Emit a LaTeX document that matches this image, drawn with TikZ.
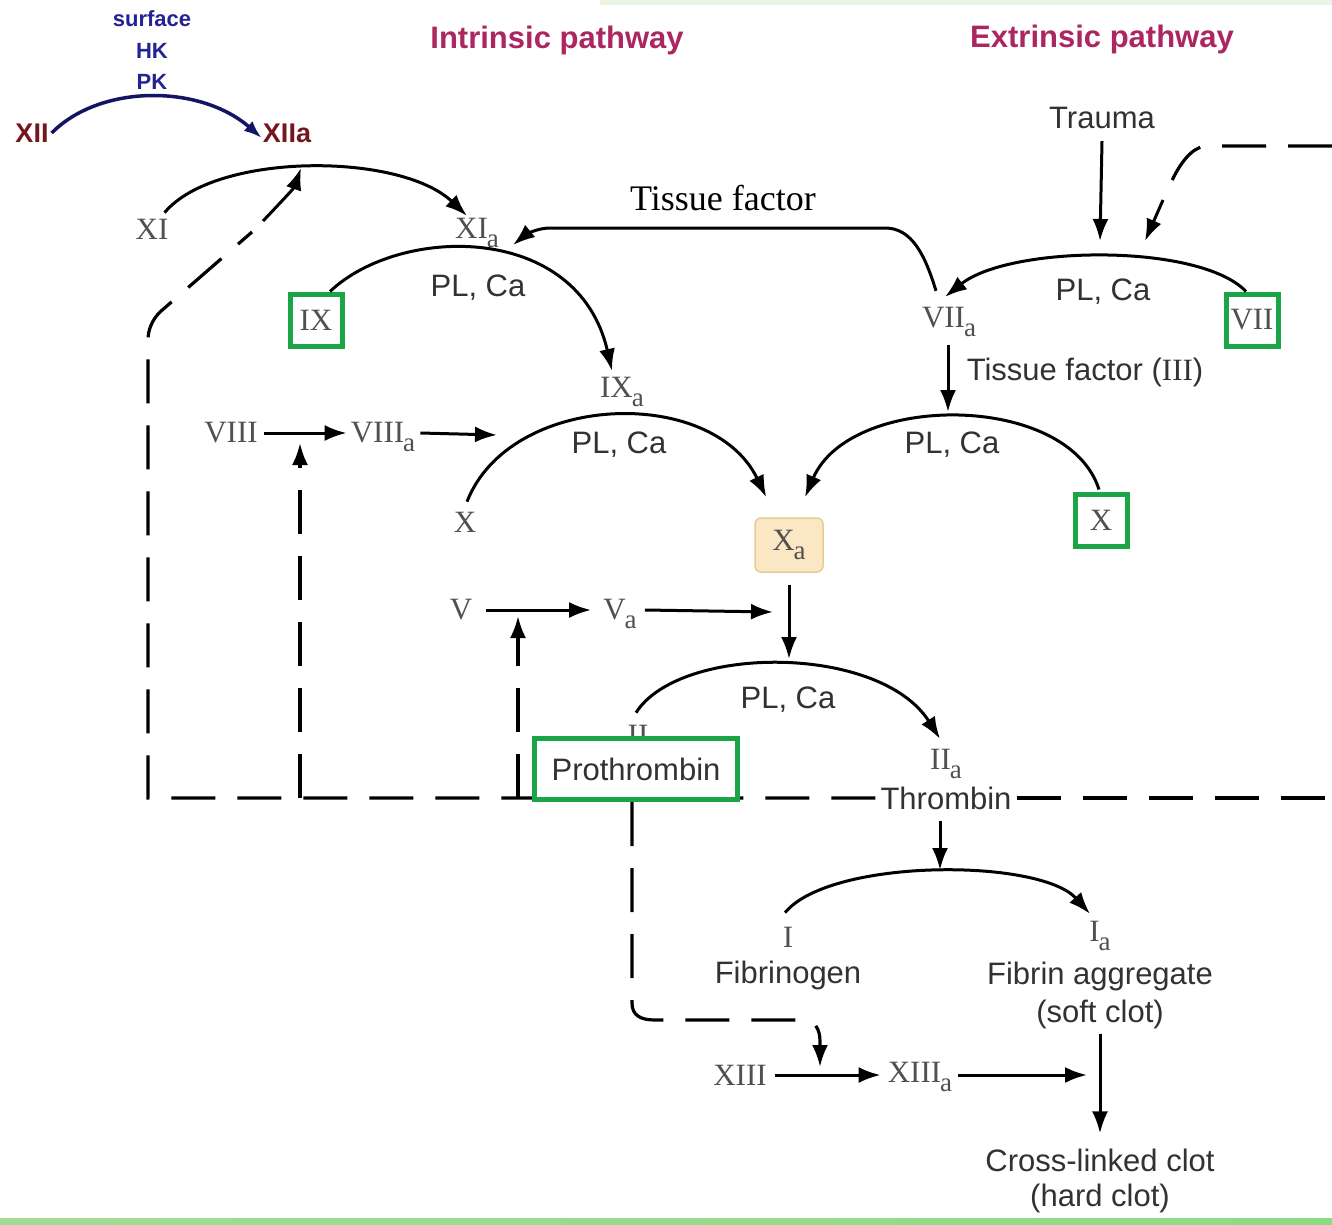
\documentclass[tikz,border=0pt]{standalone}
\usepackage{fontspec}
\setmainfont{Liberation Serif}
\setsansfont{Liberation Sans}
\usetikzlibrary{arrows.meta,shadows}
\definecolor{tgray}{RGB}{50,50,50}
\definecolor{ngray}{RGB}{80,80,80}
\definecolor{ttlcol}{RGB}{172,38,98}
\definecolor{dred}{RGB}{115,22,32}
\definecolor{dblue}{RGB}{35,35,150}
\definecolor{arcblue}{RGB}{20,20,100}
\definecolor{boxgreen}{RGB}{28,165,70}
\definecolor{xafill}{RGB}{252,231,196}
\definecolor{xadraw}{RGB}{232,202,150}
\definecolor{topgreen}{RGB}{236,245,228}
\definecolor{stripa}{RGB}{160,220,150}
\definecolor{stripb}{RGB}{140,220,130}
\newcommand{\sba}{\kern-1pt\raisebox{-0.3em}{\fontsize{27}{27}\selectfont a}}
\begin{document}
\begin{tikzpicture}[x=1pt,y=-1pt,
  sanslbl/.style={font=\sffamily\fontsize{31}{35}\selectfont, text=tgray, inner sep=2pt},
  serlbl/.style={font=\rmfamily\fontsize{31}{35}\selectfont, text=ngray, inner sep=2pt},
  ttl/.style={font=\sffamily\bfseries\fontsize{31}{35}\selectfont, text=ttlcol},
  bluelbl/.style={font=\sffamily\bfseries\fontsize{22}{24}\selectfont, text=dblue, inner sep=1pt},
  redlbl/.style={font=\sffamily\bfseries\fontsize{27}{30}\selectfont, text=dred, inner sep=1pt},
  gframe/.style={draw=boxgreen, line width=5pt, fill=white,
    drop shadow={opacity=0.35, shadow xshift=2pt, shadow yshift=-2pt}},
  gbox/.style={gframe, minimum width=52pt, minimum height=52pt, inner sep=0pt},
  arr/.style={line width=3pt, -{Latex[length=22pt,width=16pt]}},
  dsh/.style={line width=3.2pt, dash pattern=on 44pt off 22pt},
  dsharr/.style={dsh, -{Latex[length=22pt,width=16pt]}},
]
\fill[white] (0,0) rectangle (1332,1225);
\useasboundingbox (0,0) rectangle (1332,1225);
\fill[topgreen] (600,0) rectangle (1332,5);
\shade[left color=stripa, right color=stripb] (0,1218) rectangle (1332,1225);

% ---------- top-left ----------
\node[bluelbl] (surf) at (152,19) {surface};
\node[bluelbl] (hk) at (152,51) {HK};
\node[bluelbl] (pk) at (152,82) {PK};
\node[redlbl] (xii) at (32,133) {XII};
\node[redlbl] (xiia) at (287,133) {XIIa};
\draw[arcblue, line width=3.5pt, -{Latex[length=18pt,width=13pt]}]
  ([xshift=2pt]xii.east) .. controls (100,84) and (200,84) .. ([yshift=-5pt]xiia.west);

% ---------- titles ----------
\node[ttl] (intr) at (557,40) {Intrinsic pathway};
\node[ttl] (extr) at (1102,39) {Extrinsic pathway};
\node[sanslbl] (trauma) at (1102,118) {Trauma};
\node[font=\rmfamily\fontsize{36}{40}\selectfont, text=black] (tf) at (723,198) {Tissue factor};

% ---------- factor nodes ----------
\node[serlbl] (xi) at (152,229) {XI};
\node[serlbl] (xia) at (477,233) {XI\sba};
\node[serlbl, gbox] (ix) at (316,320) {IX};
\node[sanslbl] (pl1) at (478,288) {PL, Ca};
\node[serlbl] (viia) at (949,322) {VII\sba};
\node[serlbl, gbox] (vii) at (1252,320) {VII};
\node[sanslbl] (pl2) at (1103,292) {PL, Ca};
\node[sanslbl] (tf3) at (1085,372) {Tissue factor ({\rmfamily III})};
\node[serlbl] (ixa) at (622,392) {IX\sba};
\node[serlbl] (viii) at (231,433) {VIII};
\node[serlbl] (viiia) at (383,437) {VIII\sba};
\node[sanslbl] (pl3) at (619,445) {PL, Ca};
\node[sanslbl] (pl4) at (952,445) {PL, Ca};
\node[serlbl] (x1) at (465,522) {X};
\node[serlbl, gbox] (xb) at (1101,520) {X};
\node[serlbl, draw=xadraw, fill=xafill, line width=1.5pt, rounded corners=6pt,
      minimum width=68pt, minimum height=54pt] (xa) at (789,545) {X\sba};
\node[serlbl] (v) at (461,610) {V};
\node[serlbl] (va) at (620,614) {V\sba};
\node[sanslbl] (pl5) at (788,700) {PL, Ca};
\node[serlbl] (ii) at (638,735) {II};
\node[serlbl] (iia) at (946,764) {II\sba};
\node[sanslbl] (thr) at (946,798) {Thrombin};
\node[serlbl] (i) at (788,937) {I};
\node[sanslbl] (fib) at (788,975) {Fibrinogen};
\node[serlbl, inner sep=1pt] (ia) at (1100,936) {I\sba};
\node[sanslbl] (fagg) at (1100,976) {Fibrin aggregate};
\node[sanslbl] (soft) at (1100,1014) {(soft clot)};
\node[serlbl] (xiii) at (740,1075) {XIII};
\node[serlbl] (xiiia) at (920,1077) {XIII\sba};
\node[sanslbl] (cross) at (1100,1160) {Cross-linked clot};
\node[sanslbl] (hard) at (1100,1198) {(hard clot)};

% ---------- coordinates ----------
\coordinate (trm) at (1100,241);
\coordinate (viiad) at (948,412);
\coordinate (viiiend) at (497,435);
\coordinate (vaend) at (773,612);
\coordinate (xad) at (789,659);
\coordinate (thrd) at (940,870);
\coordinate (xiiiaend) at (1087,1075);
\coordinate (rtop) at (1332,146);
\coordinate (rmid) at (1332,798);
\coordinate (b148) at (148,798);
\coordinate (b300) at (300,798);
\coordinate (b518) at (518,798);
\coordinate (solA) at (263,221);
\coordinate (solB) at (301,168);
\coordinate (solC) at (1163,200);
\coordinate (solD) at (1145,241);

% ---------- arcs ----------
\draw[arr] ([xshift=-6pt,yshift=4pt]xi.north east) .. controls (215,152) and (400,152) .. ([xshift=-10pt]xia.north);
\draw[arr] ([xshift=14pt]ix.north) .. controls (400,225) and (578,222) .. ([xshift=-10pt,yshift=4pt]ixa.north);
\draw[arr] ([xshift=-6pt]vii.north) .. controls (1200,243) and (1010,245) .. ([xshift=-4pt,yshift=8pt]viia.north);
\draw[arr] ([xshift=2pt,yshift=8pt]x1.north) .. controls (510,392) and (712,385) .. ([xshift=12pt,yshift=20pt]xa.north west);
\draw[arr] ([xshift=-2pt,yshift=2pt]xb.north) .. controls (1068,392) and (850,392) .. ([xshift=16pt,yshift=20pt]xa.north);
\draw[arr] ([xshift=-2pt,yshift=10pt]ii.north) .. controls (680,644) and (880,644) .. ([xshift=-6pt,yshift=8pt]iia.north);
\draw[arr] ([xshift=-3pt,yshift=12pt]i.north) .. controls (830,858) and (1040,858) .. ([xshift=-10pt,yshift=6pt]ia.north);

% tissue factor feedback
\draw[arr] ([xshift=-13pt,yshift=14pt]viia.north) .. controls (925,255) and (912,228) .. (885,228)
  -- (550,228) .. controls (536,228) and (524,236) .. ([xshift=12pt,yshift=-12pt]xia.east);

% ---------- straight arrows ----------
\draw[arr] ([yshift=-10pt]trauma.south) -- (trm);
\draw[arr] ([xshift=-1pt,yshift=-6pt]viia.south) -- (viiad);
\draw[arr] ([xshift=4pt]viii.east) -- ([xshift=-2pt]viii.east -| viiia.west);
\draw[arr] ([xshift=3pt]viiia.east |- viii.east) -- (viiiend);
\draw[arr] ([xshift=12pt]v.east) -- ([xshift=-10pt]v.east -| va.west);
\draw[arr] ([xshift=6pt]va.east |- v.east) -- (vaend);
\draw[arr] ([yshift=-12pt]xa.south) -- (xad);
\draw[arr] ([xshift=-6pt,yshift=-9pt]thr.south) -- (thrd);
\draw[arr] ([xshift=6pt]xiii.east) -- ([xshift=-5pt]xiii.east -| xiiia.west);
\draw[arr] ([xshift=4pt]xiiia.east |- xiii.east) -- (xiiiaend);
\draw[arr] ([yshift=-3pt]soft.south) -- ([yshift=13pt]cross.north);

% ---------- dashed feedback loops ----------
\draw[dsh] ([xshift=-3pt]thr.west) -- (b148) -- (148,340) .. controls (148,330) and (152,320) .. (160,312) -- (252,232);
\draw[arr] (solA) .. controls (283,200) and (294,188) .. (solB);
\draw[dsh] ([xshift=3pt]thr.east) -- (rmid);
\draw[dsh] (rtop) -- (1205,146) .. controls (1192,148) and (1180,162) .. (1170,185);
\draw[arr] (solC) -- (solD);
\draw[dsharr] (b300) -- ([yshift=-10pt]viii.east -| b300);
\draw[dsharr] (b518) -- ([yshift=-6pt]v.east -| b518);

% prothrombin box (over the dashed line)
\node[sanslbl, gframe, minimum width=203pt, minimum height=61pt] (proth) at (636,769) {Prothrombin};
\draw[dsharr] ([xshift=-4pt]proth.south) -- (632,1003) .. controls (632,1015) and (640,1020) .. (655,1020)
  -- (800,1020) .. controls (815,1020) and (820,1028) .. (820,1042) -- ([yshift=8pt]xiii.east -| 820,0);
\end{tikzpicture}
\end{document}
